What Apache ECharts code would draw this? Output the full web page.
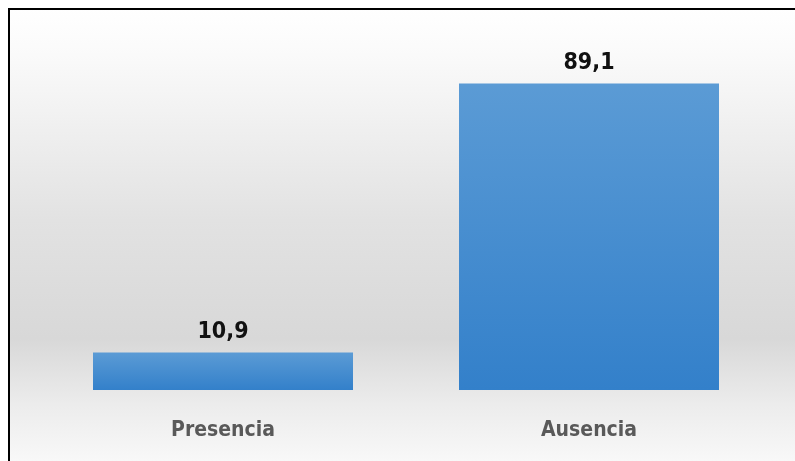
<!DOCTYPE html>
<html>
<head>
<meta charset="utf-8">
<script src="https://cdn.jsdelivr.net/npm/echarts@6/dist/echarts.min.js"></script>
<style>
  html, body { margin: 0; padding: 0; background: #fff; }
  #chart { width: 795px; height: 461px; }
</style>
</head>
<body>
<div id="chart"></div>
<script>
// datos del gráfico
const categorias = ['Presencia', 'Ausencia'];
const valores = [10.9, 89.1];

const myChart = echarts.init(document.getElementById('chart'));

const fuente = '"DejaVu Sans Condensed", "Liberation Sans Narrow", sans-serif';

const option = {
  backgroundColor: '#ffffff',
  animation: false,
  graphic: [
    {
      type: 'rect',
      z: -10,
      silent: true,
      shape: { x: 9, y: 9, width: 800, height: 470 },
      style: {
        stroke: '#000',
        lineWidth: 2,
        fill: new echarts.graphic.LinearGradient(0, 0, 0, 1, [
          { offset: 0, color: '#ffffff' },
          { offset: 0.1, color: '#fafafa' },
          { offset: 0.45, color: '#e2e2e2' },
          { offset: 0.7, color: '#d8d8d8' },
          { offset: 0.84, color: '#ececec' },
          { offset: 1, color: '#fcfcfc' }
        ])
      }
    }
  ],
  grid: { left: 40, right: 23, top: 46, bottom: 71 },
  xAxis: {
    type: 'category',
    data: categorias,
    axisLine: { show: false },
    axisTick: { show: false },
    axisLabel: {
      margin: 30,
      color: '#595959',
      fontFamily: fuente,
      fontWeight: 'bold',
      fontSize: 21
    }
  },
  yAxis: {
    type: 'value',
    min: 0,
    max: 100,
    show: false,
    splitLine: { show: false }
  },
  series: [
    {
      type: 'bar',
      data: valores,
      barWidth: 260,
      itemStyle: {
        color: new echarts.graphic.LinearGradient(0, 0, 0, 1, [
          { offset: 0, color: '#5b9bd5' },
          { offset: 1, color: '#3380ca' }
        ])
      },
      label: {
        show: true,
        position: 'top',
        distance: 9,
        color: '#111',
        fontFamily: fuente,
        fontWeight: 'bold',
        fontSize: 23,
        formatter: p => p.value.toFixed(1).replace('.', ',')
      }
    }
  ]
};

myChart.setOption(option);
</script>
</body>
</html>
